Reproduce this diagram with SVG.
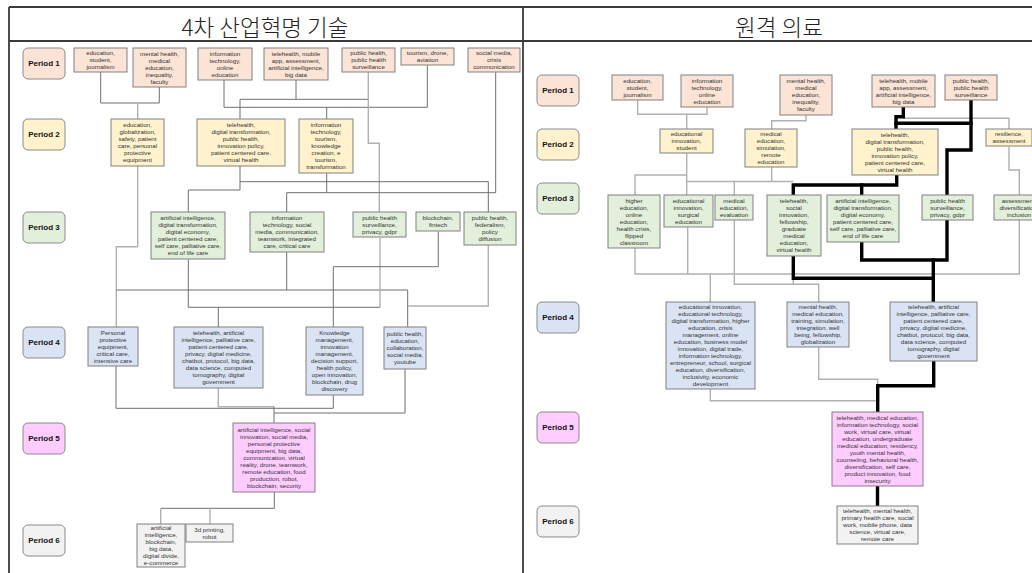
<svg xmlns="http://www.w3.org/2000/svg" width="1032" height="573" viewBox="0 0 1032 573">
  <style>
    .frame{stroke:#3a3a3a;stroke-width:1.8;fill:none}
    .title{font-family:"Noto Sans CJK KR","Noto Sans",sans-serif;font-size:22.5px;font-weight:300;fill:#222;text-anchor:middle}
    .lbl rect{stroke:#8a8a8a;stroke-width:1}
    .lbl text{font-family:"Liberation Sans",Arial,sans-serif;font-weight:bold;font-size:8px;fill:#111;text-anchor:middle}
    .n rect{stroke:#808080;stroke-width:1}
    .n text{font-family:"Liberation Sans",Arial,sans-serif;font-size:6.2px;fill:#333;text-anchor:middle}
    .c1 rect{fill:#fbe3d6}
    .c2 rect{fill:#fff2cc}
    .c3 rect{fill:#e2efda}
    .c4 rect{fill:#dae3f3}
    .c5 rect{fill:#ffccff}
    .c6 rect{fill:#f2f2f2}
    .d{fill:none;stroke:#6e6e6e;stroke-width:1}
    .l{fill:none;stroke:#b0b0b0;stroke-width:1.4}
    .k{fill:none;stroke:#000;stroke-width:3.4;stroke-linecap:square}
  </style>

  <!-- frame and headings -->
  <g id="frame">
    <line class="frame" x1="9" y1="7" x2="1032" y2="7"/>
    <line class="frame" x1="9" y1="41" x2="1032" y2="41"/>
    <line class="frame" x1="9" y1="7" x2="9" y2="573" stroke-width="2.2"/>
    <line class="frame" x1="523" y1="7" x2="523" y2="573"/>
    <text class="title" x="265" y="35.5">4차 산업혁명 기술</text>
    <text class="title" x="779" y="35.5">원격 의료</text>
  </g>

  <!-- connectors -->
  <g id="connectors">
    <!-- left panel -->
    <path class="d" d="M100.7 72V103H159.3V87"/>
    <path class="l" d="M137.7 103V119"/>
    <path class="l" d="M137.7 166V246.7H116.3V327"/>
    <path class="d" d="M224 80V107.3H427.3V65.3"/>
    <path class="d" d="M326.7 107.3V119.3"/>
    <path class="d" d="M296 80V99.3"/>
    <path class="d" d="M240 119.3V99.3H368.3"/>
    <path class="l" d="M368.3 72.3V143.3H379.3V212"/>
    <path class="d" d="M240 166V190H188.3V212"/>
    <path class="d" d="M240 181.7H488.3V212"/>
    <path class="d" d="M326.7 173.3V192.7"/>
    <path class="d" d="M286.7 212V192.7H495.7V72.3"/>
    <path class="d" d="M116.3 290H407.7V327"/>
    <path class="d" d="M286.7 252.3V290"/>
    <path class="l" d="M488.3 245V306H407.7"/>
    <path class="d" d="M188.3 259.3V307.3H380"/>
    <path class="l" d="M380 237.7V307.3"/>
    <path class="d" d="M218.3 307.3V327"/>
    <path class="d" d="M438.3 231.7V266.7H333.3V327"/>
    <path class="d" d="M116 366V408.3H333.3V395"/>
    <path class="l" d="M218.3 388.3V406.7H274"/>
    <path class="d" d="M405 369.3V413H274"/>
    <path class="d" d="M274 406.7V423"/>
    <path class="d" d="M274.3 491.7V508.3H160.7"/>
    <path class="l" d="M160.7 508.3V524.3"/>
    <path class="l" d="M210 508.3V524.3"/>

    <!-- right panel, thin -->
    <path class="l" d="M637.7 100V114.3H707V107.3"/>
    <path class="l" d="M686.7 114.3V129.3"/>
    <path class="l" d="M806 115V120.7H771.7V129.3"/>
    <path class="l" d="M903.3 118.3H1009V129.3"/>
    <path class="l" d="M1009 146.7V170H1019.3V195"/>
    <path class="l" d="M686.7 153.3V195"/>
    <path class="l" d="M686.7 175H635V195"/>
    <path class="l" d="M686.7 181.5H793.3"/>
    <path class="l" d="M734.3 181.5V195"/>
    <path class="l" d="M771.7 167.3V181.5"/>
    <path class="l" d="M635 248.3V274H1019.3V220"/>
    <path class="l" d="M687.7 227.3V274"/>
    <path class="l" d="M710.3 274V302"/>
    <path class="l" d="M734.3 220V284.3H818.7V302"/>
    <path class="l" d="M793.3 278V284.3"/>
    <path class="l" d="M710.3 389.3V400.7H877.7"/>
    <path class="l" d="M818.7 347.3V379.3H877.7V386"/>

    <!-- right panel, thick path -->
    <path class="k" d="M903.3 107.3V116.7H896V129.3"/>
    <path class="k" d="M896 123.3H971"/>
    <path class="k" d="M971 100V150H947V195"/>
    <path class="k" d="M896.7 175V185H793.3V195"/>
    <path class="k" d="M861.7 185V195"/>
    <path class="k" d="M793.3 256V278.3H933.3"/>
    <path class="k" d="M861.7 241.7V260H947V220"/>
    <path class="k" d="M933.3 260V302"/>
    <path class="k" d="M933.7 361V385.7H877.7V412"/>
    <path class="k" d="M877.5 486V506"/>
  </g>

  <!-- period labels, left -->
  <g id="lp1" class="lbl c1"><rect x="23" y="48" width="42" height="31" rx="5"/><text x="44" y="66.3">Period 1</text></g>
  <g id="lp2" class="lbl c2"><rect x="23" y="119" width="42" height="31" rx="5"/><text x="44" y="137.3">Period 2</text></g>
  <g id="lp3" class="lbl c3"><rect x="23" y="212" width="42" height="31" rx="5"/><text x="44" y="230.3">Period 3</text></g>
  <g id="lp4" class="lbl c4"><rect x="23" y="327" width="42" height="31" rx="5"/><text x="44" y="345.3">Period 4</text></g>
  <g id="lp5" class="lbl c5"><rect x="23" y="423" width="42" height="31" rx="5"/><text x="44" y="441.3">Period 5</text></g>
  <g id="lp6" class="lbl c6"><rect x="23" y="525" width="42" height="31" rx="5"/><text x="44" y="543.3">Period 6</text></g>

  <!-- period labels, right -->
  <g id="rp1" class="lbl c1"><rect x="537" y="75" width="42" height="31" rx="5"/><text x="558" y="93.3">Period 1</text></g>
  <g id="rp2" class="lbl c2"><rect x="537" y="129" width="42" height="31" rx="5"/><text x="558" y="147.3">Period 2</text></g>
  <g id="rp3" class="lbl c3"><rect x="537" y="183" width="42" height="31" rx="5"/><text x="558" y="201.3">Period 3</text></g>
  <g id="rp4" class="lbl c4"><rect x="537" y="302" width="42" height="31" rx="5"/><text x="558" y="320.3">Period 4</text></g>
  <g id="rp5" class="lbl c5"><rect x="537" y="412" width="42" height="31" rx="5"/><text x="558" y="430.3">Period 5</text></g>
  <g id="rp6" class="lbl c6"><rect x="537" y="506" width="42" height="31" rx="5"/><text x="558" y="524.3">Period 6</text></g>

  <!-- left panel nodes -->
  <g id="L1a" class="n c1"><rect x="74" y="48" width="53" height="24"/>
    <text x="100.5" y="55.2"><tspan x="100.5">education,</tspan><tspan x="100.5" dy="7">student,</tspan><tspan x="100.5" dy="7">journalism</tspan></text></g>
  <g id="L1b" class="n c1"><rect x="133" y="48" width="53" height="39"/>
    <text x="159.5" y="55.7"><tspan x="159.5">mental health,</tspan><tspan x="159.5" dy="7">medical</tspan><tspan x="159.5" dy="7">education,</tspan><tspan x="159.5" dy="7">inequality,</tspan><tspan x="159.5" dy="7">faculty</tspan></text></g>
  <g id="L1c" class="n c1"><rect x="198" y="48" width="54" height="32"/>
    <text x="225" y="55.7"><tspan x="225">information</tspan><tspan x="225" dy="7">technology,</tspan><tspan x="225" dy="7">online</tspan><tspan x="225" dy="7">education</tspan></text></g>
  <g id="L1d" class="n c1"><rect x="264" y="48" width="64" height="32"/>
    <text x="296" y="55.7"><tspan x="296">telehealth, mobile</tspan><tspan x="296" dy="7">app, assessment,</tspan><tspan x="296" dy="7">artificial intelligence,</tspan><tspan x="296" dy="7">big data</tspan></text></g>
  <g id="L1e" class="n c1"><rect x="342" y="48" width="53" height="24"/>
    <text x="368.5" y="55.2"><tspan x="368.5">public health,</tspan><tspan x="368.5" dy="7">public health</tspan><tspan x="368.5" dy="7">surveillance</tspan></text></g>
  <g id="L1f" class="n c1"><rect x="401" y="48" width="53" height="17"/>
    <text x="427.5" y="55.2"><tspan x="427.5">tourism, drone,</tspan><tspan x="427.5" dy="7">aviation</tspan></text></g>
  <g id="L1g" class="n c1"><rect x="468" y="48" width="52" height="24"/>
    <text x="494" y="55.2"><tspan x="494">social media,</tspan><tspan x="494" dy="7">crisis</tspan><tspan x="494" dy="7">communication</tspan></text></g>

  <g id="L2a" class="n c2"><rect x="111" y="119" width="53" height="47"/>
    <text x="137.5" y="127.2"><tspan x="137.5">education,</tspan><tspan x="137.5" dy="7">globalization,</tspan><tspan x="137.5" dy="7">safety, patient</tspan><tspan x="137.5" dy="7">care, personal</tspan><tspan x="137.5" dy="7">protective</tspan><tspan x="137.5" dy="7">equipment</tspan></text></g>
  <g id="L2b" class="n c2"><rect x="197" y="119" width="88" height="47"/>
    <text x="241" y="127.2"><tspan x="241">telehealth,</tspan><tspan x="241" dy="7">digital transformation,</tspan><tspan x="241" dy="7">public health,</tspan><tspan x="241" dy="7">innovation policy,</tspan><tspan x="241" dy="7">patient centered care,</tspan><tspan x="241" dy="7">virtual health</tspan></text></g>
  <g id="L2c" class="n c2"><rect x="299" y="119" width="54" height="54"/>
    <text x="326" y="127.2"><tspan x="326">information</tspan><tspan x="326" dy="7">technology,</tspan><tspan x="326" dy="7">tourism,</tspan><tspan x="326" dy="7">knowledge</tspan><tspan x="326" dy="7">creation, e</tspan><tspan x="326" dy="7">tourism,</tspan><tspan x="326" dy="7">transformation</tspan></text></g>

  <g id="L3a" class="n c3"><rect x="151" y="212" width="74" height="47"/>
    <text x="188" y="220.2"><tspan x="188">artificial intelligence,</tspan><tspan x="188" dy="7">digital transformation,</tspan><tspan x="188" dy="7">digital economy,</tspan><tspan x="188" dy="7">patient centered care,</tspan><tspan x="188" dy="7">self care, palliative care,</tspan><tspan x="188" dy="7">end of life care</tspan></text></g>
  <g id="L3b" class="n c3"><rect x="250" y="212" width="74" height="40"/>
    <text x="287" y="220.2"><tspan x="287">information</tspan><tspan x="287" dy="7">technology, social</tspan><tspan x="287" dy="7">media, communication,</tspan><tspan x="287" dy="7">teamwork, integrated</tspan><tspan x="287" dy="7">care, critical care</tspan></text></g>
  <g id="L3c" class="n c3"><rect x="353" y="212" width="53" height="25"/>
    <text x="379.5" y="219.7"><tspan x="379.5">public health</tspan><tspan x="379.5" dy="7">surveillance,</tspan><tspan x="379.5" dy="7">privacy, gdpr</tspan></text></g>
  <g id="L3d" class="n c3"><rect x="416" y="212" width="44" height="19"/>
    <text x="438" y="220.2"><tspan x="438">blockchain,</tspan><tspan x="438" dy="7">fintech</tspan></text></g>
  <g id="L3e" class="n c3"><rect x="464" y="212" width="52" height="33"/>
    <text x="490" y="220.2"><tspan x="490">public health,</tspan><tspan x="490" dy="7">federalism,</tspan><tspan x="490" dy="7">policy</tspan><tspan x="490" dy="7">diffusion</tspan></text></g>

  <g id="L4a" class="n c4"><rect x="88" y="327" width="50" height="39"/>
    <text x="113" y="334.7"><tspan x="113">Personal</tspan><tspan x="113" dy="7">protective</tspan><tspan x="113" dy="7">equipment,</tspan><tspan x="113" dy="7">critical care,</tspan><tspan x="113" dy="7">intensive care</tspan></text></g>
  <g id="L4b" class="n c4"><rect x="174" y="327" width="89" height="61"/>
    <text x="218.5" y="335.2"><tspan x="218.5">telehealth, artificial</tspan><tspan x="218.5" dy="7">intelligence, palliative care,</tspan><tspan x="218.5" dy="7">patient centered care,</tspan><tspan x="218.5" dy="7">privacy, digital medicine,</tspan><tspan x="218.5" dy="7">chatbot, protocol, big data,</tspan><tspan x="218.5" dy="7">data science, computed</tspan><tspan x="218.5" dy="7">tomography, digital</tspan><tspan x="218.5" dy="7">government</tspan></text></g>
  <g id="L4c" class="n c4"><rect x="306" y="327" width="57" height="68"/>
    <text x="334.5" y="335.2"><tspan x="334.5">Knowledge</tspan><tspan x="334.5" dy="7">management,</tspan><tspan x="334.5" dy="7">innovation</tspan><tspan x="334.5" dy="7">management,</tspan><tspan x="334.5" dy="7">decision support,</tspan><tspan x="334.5" dy="7">health policy,</tspan><tspan x="334.5" dy="7">open innovation,</tspan><tspan x="334.5" dy="7">blockchain, drug</tspan><tspan x="334.5" dy="7">discovery</tspan></text></g>
  <g id="L4d" class="n c4"><rect x="384" y="327" width="42" height="42"/>
    <text x="405" y="336.2"><tspan x="405">public health,</tspan><tspan x="405" dy="7">education,</tspan><tspan x="405" dy="7">collaboration,</tspan><tspan x="405" dy="7">social media,</tspan><tspan x="405" dy="7">youtube</tspan></text></g>

  <g id="L5" class="n c5"><rect x="233" y="423" width="82" height="69"/>
    <text x="274" y="431.7"><tspan x="274">artificial intelligence, social</tspan><tspan x="274" dy="7">innovation, social media,</tspan><tspan x="274" dy="7">personal protective</tspan><tspan x="274" dy="7">equipment, big data,</tspan><tspan x="274" dy="7">communication, virtual</tspan><tspan x="274" dy="7">reality, drone, teamwork,</tspan><tspan x="274" dy="7">remote education, food</tspan><tspan x="274" dy="7">production, robot,</tspan><tspan x="274" dy="7">blockchain, security</tspan></text></g>

  <g id="L6a" class="n c6"><rect x="137" y="524" width="48" height="43"/>
    <text x="161" y="530.2"><tspan x="161">artificial</tspan><tspan x="161" dy="6.9">intelligence,</tspan><tspan x="161" dy="6.9">blockchain,</tspan><tspan x="161" dy="6.9">big data,</tspan><tspan x="161" dy="6.9">digital divide,</tspan><tspan x="161" dy="6.9">e-commerce</tspan></text></g>
  <g id="L6b" class="n c6"><rect x="186" y="524" width="47" height="18"/>
    <text x="209.5" y="531.7"><tspan x="209.5">3d printing,</tspan><tspan x="209.5" dy="7">robot</tspan></text></g>

  <!-- right panel nodes -->
  <g id="R1a" class="n c1"><rect x="612" y="75" width="51" height="25"/>
    <text x="637.5" y="82.7"><tspan x="637.5">education,</tspan><tspan x="637.5" dy="7">student,</tspan><tspan x="637.5" dy="7">journalism</tspan></text></g>
  <g id="R1b" class="n c1"><rect x="681" y="75" width="52" height="32"/>
    <text x="707" y="82.7"><tspan x="707">information</tspan><tspan x="707" dy="7">technology,</tspan><tspan x="707" dy="7">online</tspan><tspan x="707" dy="7">education</tspan></text></g>
  <g id="R1c" class="n c1"><rect x="780" y="75" width="52" height="40"/>
    <text x="806" y="83.2"><tspan x="806">mental health,</tspan><tspan x="806" dy="7">medical</tspan><tspan x="806" dy="7">education,</tspan><tspan x="806" dy="7">inequality,</tspan><tspan x="806" dy="7">faculty</tspan></text></g>
  <g id="R1d" class="n c1"><rect x="872" y="75" width="63" height="32"/>
    <text x="903.5" y="82.7"><tspan x="903.5">telehealth, mobile</tspan><tspan x="903.5" dy="7">app, assessment,</tspan><tspan x="903.5" dy="7">artificial intelligence,</tspan><tspan x="903.5" dy="7">big data</tspan></text></g>
  <g id="R1e" class="n c1"><rect x="945" y="75" width="52" height="25"/>
    <text x="971" y="82.7"><tspan x="971">public health,</tspan><tspan x="971" dy="7">public health</tspan><tspan x="971" dy="7">surveillance</tspan></text></g>

  <g id="R2a" class="n c2"><rect x="660" y="129" width="53" height="24"/>
    <text x="686.5" y="136.2"><tspan x="686.5">educational</tspan><tspan x="686.5" dy="7">innovation,</tspan><tspan x="686.5" dy="7">student</tspan></text></g>
  <g id="R2b" class="n c2"><rect x="745" y="129" width="52" height="38"/>
    <text x="771" y="136.2"><tspan x="771">medical</tspan><tspan x="771" dy="7">education,</tspan><tspan x="771" dy="7">simulation,</tspan><tspan x="771" dy="7">remote</tspan><tspan x="771" dy="7">education</tspan></text></g>
  <g id="R2c" class="n c2"><rect x="852" y="129" width="86" height="46"/>
    <text x="895" y="136.7"><tspan x="895">telehealth,</tspan><tspan x="895" dy="7">digital transformation,</tspan><tspan x="895" dy="7">public health,</tspan><tspan x="895" dy="7">innovation policy,</tspan><tspan x="895" dy="7">patient centered care,</tspan><tspan x="895" dy="7">virtual health</tspan></text></g>
  <g id="R2d" class="n c2"><rect x="986" y="129" width="46" height="17"/>
    <text x="1009" y="136.2"><tspan x="1009">resilience,</tspan><tspan x="1009" dy="7">assessment</tspan></text></g>

  <g id="R3a" class="n c3"><rect x="608" y="195" width="52" height="53"/>
    <text x="634" y="202.7"><tspan x="634">higher</tspan><tspan x="634" dy="7">education,</tspan><tspan x="634" dy="7">online</tspan><tspan x="634" dy="7">education,</tspan><tspan x="634" dy="7">health crisis,</tspan><tspan x="634" dy="7">flipped</tspan><tspan x="634" dy="7">classroom</tspan></text></g>
  <g id="R3b" class="n c3"><rect x="664" y="195" width="49" height="32"/>
    <text x="688.5" y="202.7"><tspan x="688.5">educational</tspan><tspan x="688.5" dy="7">innovation,</tspan><tspan x="688.5" dy="7">surgical</tspan><tspan x="688.5" dy="7">education</tspan></text></g>
  <g id="R3c" class="n c3"><rect x="715" y="195" width="38" height="25"/>
    <text x="734" y="202.7"><tspan x="734">medical</tspan><tspan x="734" dy="7">education,</tspan><tspan x="734" dy="7">evaluation</tspan></text></g>
  <g id="R3d" class="n c3"><rect x="767" y="195" width="54" height="61"/>
    <text x="794" y="203.2"><tspan x="794">telehealth,</tspan><tspan x="794" dy="7">social</tspan><tspan x="794" dy="7">innovation,</tspan><tspan x="794" dy="7">fellowship,</tspan><tspan x="794" dy="7">graduate</tspan><tspan x="794" dy="7">medical</tspan><tspan x="794" dy="7">education,</tspan><tspan x="794" dy="7">virtual health</tspan></text></g>
  <g id="R3e" class="n c3"><rect x="827" y="195" width="72" height="47"/>
    <text x="863" y="203.2"><tspan x="863">artificial intelligence,</tspan><tspan x="863" dy="7">digital transformation,</tspan><tspan x="863" dy="7">digital economy,</tspan><tspan x="863" dy="7">patient centered care,</tspan><tspan x="863" dy="7">self care, palliative care,</tspan><tspan x="863" dy="7">end of life care</tspan></text></g>
  <g id="R3f" class="n c3"><rect x="922" y="195" width="51" height="25"/>
    <text x="947.5" y="202.7"><tspan x="947.5">public health</tspan><tspan x="947.5" dy="7">surveillance,</tspan><tspan x="947.5" dy="7">privacy, gdpr</tspan></text></g>
  <g id="R3g" class="n c3"><rect x="994" y="195" width="54" height="25"/>
    <text x="1019" y="202.7"><tspan x="1019">assessment,</tspan><tspan x="1019" dy="7">diversification,</tspan><tspan x="1019" dy="7">inclusion</tspan></text></g>

  <g id="R4a" class="n c4"><rect x="666" y="302" width="89" height="87"/>
    <text x="710.5" y="309.2"><tspan x="710.5">educational innovation,</tspan><tspan x="710.5" dy="7">educational technology,</tspan><tspan x="710.5" dy="7">digital transformation, higher</tspan><tspan x="710.5" dy="7">education, crisis</tspan><tspan x="710.5" dy="7">management, online</tspan><tspan x="710.5" dy="7">education, business model</tspan><tspan x="710.5" dy="7">innovation, digital trade,</tspan><tspan x="710.5" dy="7">information technology,</tspan><tspan x="710.5" dy="7">entrepreneur, school, surgical</tspan><tspan x="710.5" dy="7">education, diversification,</tspan><tspan x="710.5" dy="7">inclusivity, economic</tspan><tspan x="710.5" dy="7">development</tspan></text></g>
  <g id="R4b" class="n c4"><rect x="787" y="302" width="62" height="45"/>
    <text x="818" y="309.2"><tspan x="818">mental health,</tspan><tspan x="818" dy="7">medical education,</tspan><tspan x="818" dy="7">training, simulation,</tspan><tspan x="818" dy="7">integration, well</tspan><tspan x="818" dy="7">being, fellowship,</tspan><tspan x="818" dy="7">globalization</tspan></text></g>
  <g id="R4c" class="n c4"><rect x="890" y="302" width="87" height="59"/>
    <text x="933.5" y="309.2"><tspan x="933.5">telehealth, artificial</tspan><tspan x="933.5" dy="7">intelligence, palliative care,</tspan><tspan x="933.5" dy="7">patient centered care,</tspan><tspan x="933.5" dy="7">privacy, digital medicine,</tspan><tspan x="933.5" dy="7">chatbot, protocol, big data,</tspan><tspan x="933.5" dy="7">data science, computed</tspan><tspan x="933.5" dy="7">tomography, digital</tspan><tspan x="933.5" dy="7">government</tspan></text></g>

  <g id="R5" class="n c5"><rect x="832" y="412" width="91" height="74"/>
    <text x="877.5" y="419.7"><tspan x="877.5">telehealth, medical education,</tspan><tspan x="877.5" dy="7">information technology, social</tspan><tspan x="877.5" dy="7">work, virtual care, virtual</tspan><tspan x="877.5" dy="7">education, undergraduate</tspan><tspan x="877.5" dy="7">medical education, residency,</tspan><tspan x="877.5" dy="7">youth mental health,</tspan><tspan x="877.5" dy="7">counseling, behavioral health,</tspan><tspan x="877.5" dy="7">diversification, self care,</tspan><tspan x="877.5" dy="7">product innovation, food</tspan><tspan x="877.5" dy="7">insecurity</tspan></text></g>

  <g id="R6" class="n c6"><rect x="837" y="506" width="81" height="38"/>
    <text x="877.5" y="513.2"><tspan x="877.5">telehealth, mental health,</tspan><tspan x="877.5" dy="7">primary health care, social</tspan><tspan x="877.5" dy="7">work, mobile phone, data</tspan><tspan x="877.5" dy="7">science, virtual care,</tspan><tspan x="877.5" dy="7">remote care</tspan></text></g>
</svg>
